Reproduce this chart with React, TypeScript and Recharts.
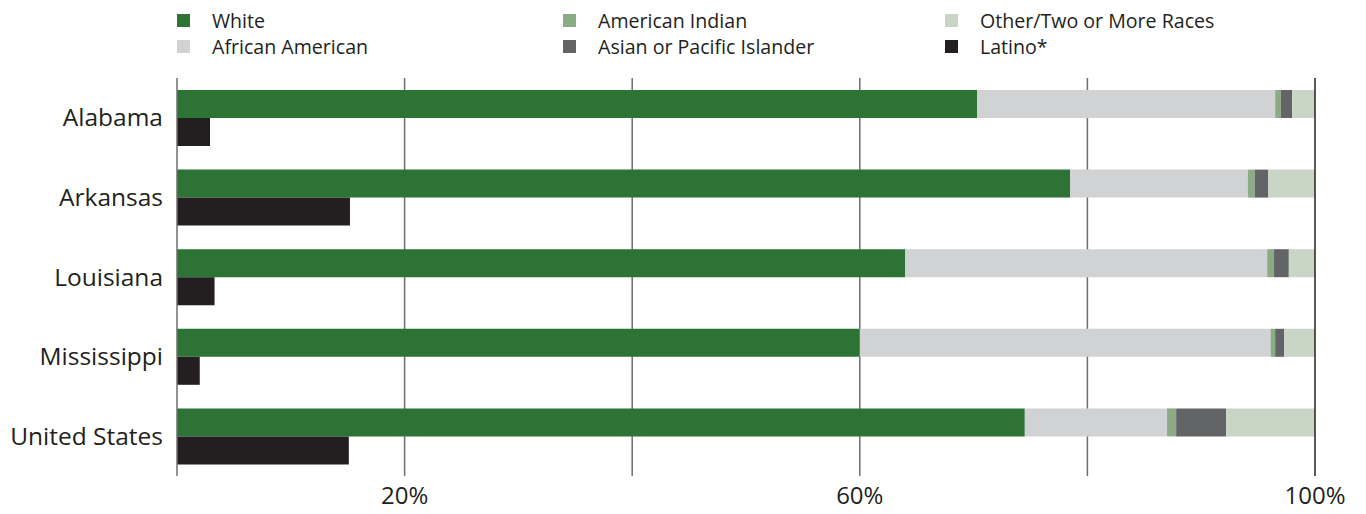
import { BarChart, Bar, XAxis, YAxis, CartesianGrid, ReferenceLine } from "recharts";

const states = ["Alabama", "Arkansas", "Louisiana", "Mississippi", "United States"];
const white = [70.3, 78.5, 64.0, 60.0, 74.5];
const africanAmerican = [26.2, 15.6, 31.8, 36.1, 12.5];
const americanIndian = [0.5, 0.6, 0.6, 0.4, 0.8];
const asian = [1.0, 1.2, 1.3, 0.8, 4.4];
const other = [2.0, 4.1, 2.3, 2.7, 7.8];
const latino = [2.9, 15.2, 3.3, 2.0, 15.1];

const xTicks = [20, 60, 100];
const gridValues = [20, 40, 60, 80];

const COLORS = {
  white: "#2d7336",
  africanAmerican: "#d1d2d4",
  americanIndian: "#8aab83",
  asian: "#636466",
  other: "#cad6c5",
  latino: "#231f20",
  grid: "#6d6e71",
  text: "#231f20",
};

const legendItems = [
  { label: "White", color: COLORS.white, left: 177, top: 9 },
  { label: "African American", color: COLORS.africanAmerican, left: 177, top: 35 },
  { label: "American Indian", color: COLORS.americanIndian, left: 563, top: 9 },
  { label: "Asian or Pacific Islander", color: COLORS.asian, left: 563, top: 35 },
  { label: "Other/Two or More Races", color: COLORS.other, left: 945, top: 9 },
  { label: "Latino*", color: COLORS.latino, left: 945, top: 35 },
];

const data = states.map((name, i) => ({
  name,
  white: white[i],
  africanAmerican: africanAmerican[i],
  americanIndian: americanIndian[i],
  asian: asian[i],
  other: other[i],
  latino: latino[i],
}));

const FONT = "'Open Sans', Lato, sans-serif";

export default function App() {
  return (
    <div style={{ position: "absolute", left: 0, top: 0, width: 1366, height: 514, fontFamily: FONT, background: "#fff" }}>
      {/* legend, three columns of two rows */}
      {legendItems.map((item) => (
        <div
          key={item.label}
          style={{ position: "absolute", left: item.left, top: item.top, height: 22, display: "flex", alignItems: "center" }}
        >
          <span style={{ width: 13, height: 13, background: item.color, display: "inline-block" }} />
          <span style={{ marginLeft: 22, fontSize: 19.6, color: COLORS.text, whiteSpace: "nowrap" }}>
            {item.label}
          </span>
        </div>
      ))}

      <BarChart
        width={1366}
        height={514}
        data={data}
        layout="vertical"
        margin={{ top: 78, right: 51, bottom: 0, left: 8 }}
        barGap={0}
        barSize={28}
      >
        <CartesianGrid horizontal={false} verticalValues={gridValues} stroke={COLORS.grid} strokeWidth={1.5} />
        <XAxis
          type="number"
          domain={[0, 100]}
          ticks={xTicks}
          tickFormatter={(v) => `${v}%`}
          axisLine={false}
          tickLine={false}
          tickSize={0}
          tickMargin={11}
          height={38}
          tick={{ fontSize: 24, fill: COLORS.text, fontFamily: FONT }}
        />
        <YAxis
          type="category"
          dataKey="name"
          width={169}
          axisLine={{ stroke: COLORS.grid, strokeWidth: 1.5 }}
          tickLine={false}
          tickSize={0}
          tickMargin={14}
          tick={{ fontSize: 24.5, fill: COLORS.text, fontFamily: FONT }}
        />
        <ReferenceLine x={100} stroke={COLORS.text} strokeWidth={1.5} />
        <Bar dataKey="white" stackId="race" fill={COLORS.white} isAnimationActive={false} />
        <Bar dataKey="africanAmerican" stackId="race" fill={COLORS.africanAmerican} isAnimationActive={false} />
        <Bar dataKey="americanIndian" stackId="race" fill={COLORS.americanIndian} isAnimationActive={false} />
        <Bar dataKey="asian" stackId="race" fill={COLORS.asian} isAnimationActive={false} />
        <Bar dataKey="other" stackId="race" fill={COLORS.other} isAnimationActive={false} />
        <Bar dataKey="latino" stackId="latino" fill={COLORS.latino} isAnimationActive={false} />
      </BarChart>
    </div>
  );
}
